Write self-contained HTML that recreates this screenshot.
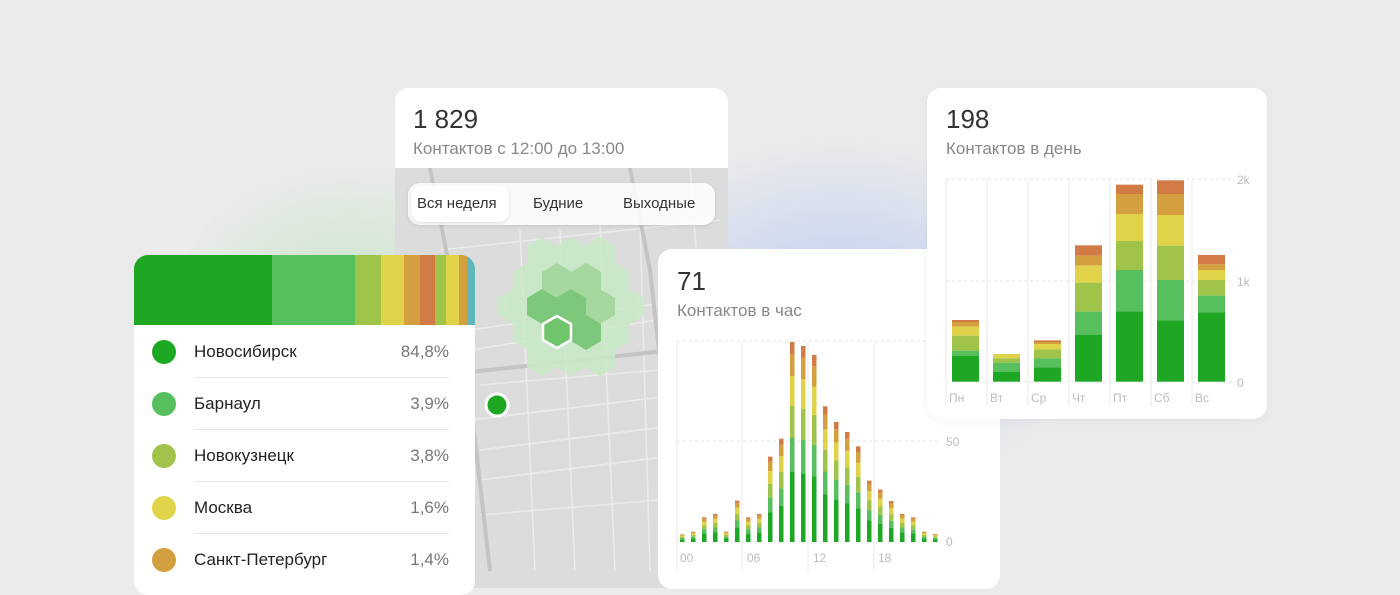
<!DOCTYPE html>
<html><head><meta charset="utf-8"><style>
*{margin:0;padding:0;box-sizing:border-box}
body{width:1400px;height:571px;overflow:hidden;background:#ebebeb;font-family:"Liberation Sans","DejaVu Sans",sans-serif;position:relative}
.card{position:absolute;background:#fff;border-radius:14px;overflow:hidden}
.big{position:absolute;font-size:26px;color:#333}
.sub{position:absolute;font-size:17px;color:#888}
</style></head><body>
<div style="position:absolute;left:560px;top:120px;width:560px;height:400px;background:radial-gradient(ellipse at center,rgba(170,195,245,.75),rgba(235,235,235,0) 65%)"></div>
<div style="position:absolute;left:150px;top:150px;width:400px;height:300px;background:radial-gradient(ellipse at center,rgba(180,225,180,.6),rgba(235,235,235,0) 65%)"></div>

<div class="card" style="left:395px;top:88px;width:333px;height:500px;">
 <div class="big" style="left:18px;top:16px">1 829</div>
 <div class="sub" style="left:18px;top:51px">Контактов с 12:00 до 13:00</div>
 <svg style="position:absolute;left:0;top:80px" width="333" height="420" viewBox="395 168 333 420">
  <rect x="395" y="168" width="333" height="420" fill="#dcdcdc"/>
  <g stroke="#ececec" stroke-width="1.5" fill="none">
   <path d="M470 330 L720 295"/><path d="M470 350 L720 310"/>
   <path d="M440 250 L720 220"/><path d="M470 420 L720 390"/><path d="M480 480 L720 450"/>
   <path d="M520 230 L535 571"/><path d="M560 230 L575 571"/><path d="M600 225 L615 571"/><path d="M640 220 L650 571"/>
   <path d="M480 385 L720 365"/><path d="M480 450 L720 420"/><path d="M480 515 L720 495"/>
   <path d="M690 168 L700 300 L705 571"/>
  </g>
  <g stroke="#c4c4c4" stroke-width="4" fill="none">
   <path d="M430 168 L448 260 L462 340 L475 440 L490 571"/>
   <path d="M630 168 L650 270 L660 360 L670 571"/>
   <path d="M470 372 L720 345"/>
  </g>
  <g fill="#c9e9c6" opacity=".85">
   <polygon points="542,237 557,246 557,263 542,272 527,263 527,246"/>
   <polygon points="571,237 586,246 586,263 571,272 556,263 556,246"/>
   <polygon points="600,237 615,246 615,263 600,272 585,263 585,246"/>
   <polygon points="528,263 543,272 543,289 528,298 513,289 513,272"/>
   <polygon points="615,263 630,272 630,289 615,298 600,289 600,272"/>
   <polygon points="513,289 528,298 528,315 513,324 498,315 498,298"/>
   <polygon points="629,289 644,298 644,315 629,324 614,315 614,298"/>
   <polygon points="528,315 543,324 543,341 528,350 513,341 513,324"/>
   <polygon points="615,315 630,324 630,341 615,350 600,341 600,324"/>
   <polygon points="542,341 557,350 557,367 542,376 527,367 527,350"/>
   <polygon points="571,341 586,350 586,367 571,376 556,367 556,350"/>
   <polygon points="600,341 615,350 615,367 600,376 585,367 585,350"/>
  </g>
  <g fill="#a4d89f">
   <polygon points="557,263 572,272 572,289 557,298 542,289 542,272"/>
   <polygon points="586,263 601,272 601,289 586,298 571,289 571,272"/>
   <polygon points="600,289 615,298 615,315 600,324 585,315 585,298"/>
  </g>
  <g fill="#7cc77a">
   <polygon points="542,289 557,298 557,315 542,324 527,315 527,298"/>
   <polygon points="571,289 586,298 586,315 571,324 556,315 556,298"/>
   <polygon points="586,315 601,324 601,341 586,350 571,341 571,324"/>
  </g>
  <polygon points="557,316 571,324 571,340 557,348 543,340 543,324" fill="#6fc46c" stroke="#fff" stroke-width="2.5"/>
  <circle cx="497" cy="405" r="11" fill="#1ea723" stroke="#fff" stroke-width="3"/>
 </svg>
 <div style="position:absolute;left:13px;top:95px;width:307px;height:42px;background:rgba(255,255,255,.85);border-radius:12px;box-shadow:0 1px 4px rgba(0,0,0,.1)">
  <div style="position:absolute;left:3px;top:3px;width:98px;height:36px;background:#fff;border-radius:10px;box-shadow:0 1px 3px rgba(0,0,0,.12)"></div>
  <div style="position:absolute;left:9px;top:12px;font-size:15px;color:#333">Вся неделя</div>
  <div style="position:absolute;left:125px;top:12px;font-size:15px;color:#333">Будние</div>
  <div style="position:absolute;left:215px;top:12px;font-size:15px;color:#333">Выходные</div>
 </div>
</div>

<div class="card" style="left:134px;top:255px;width:341px;height:340px;">
 <div style="position:absolute;left:0;top:0;height:70px;width:341px;display:flex">
  <div style="width:138px;background:#1ea723"></div><div style="width:83px;background:#58bf5f"></div>
  <div style="width:26px;background:#a0c44a"></div><div style="width:23px;background:#e0d34a"></div>
  <div style="width:16px;background:#d4a03f"></div><div style="width:15px;background:#d17b47"></div>
  <div style="width:11px;background:#a0c44a"></div><div style="width:13px;background:#e0d34a"></div>
  <div style="width:8px;background:#d4a03f"></div><div style="width:8px;background:#5fb9bc"></div>
 </div>
 <div style="position:absolute;left:18px;top:85px;width:24px;height:24px;border-radius:50%;background:#1ea723"></div>
 <div style="position:absolute;left:18px;top:137px;width:24px;height:24px;border-radius:50%;background:#58bf5f"></div>
 <div style="position:absolute;left:18px;top:189px;width:24px;height:24px;border-radius:50%;background:#a0c44a"></div>
 <div style="position:absolute;left:18px;top:241px;width:24px;height:24px;border-radius:50%;background:#e0d34a"></div>
 <div style="position:absolute;left:18px;top:293px;width:24px;height:24px;border-radius:50%;background:#d4a03f"></div>
 <div style="position:absolute;left:60px;top:87px;font-size:17px;color:#222">Новосибирск</div>
 <div style="position:absolute;left:60px;top:139px;font-size:17px;color:#222">Барнаул</div>
 <div style="position:absolute;left:60px;top:191px;font-size:17px;color:#222">Новокузнецк</div>
 <div style="position:absolute;left:60px;top:243px;font-size:17px;color:#222">Москва</div>
 <div style="position:absolute;left:60px;top:295px;font-size:17px;color:#222">Санкт-Петербург</div>
 <div style="position:absolute;right:26px;top:87px;font-size:17px;color:#777">84,8%</div>
 <div style="position:absolute;right:26px;top:139px;font-size:17px;color:#777">3,9%</div>
 <div style="position:absolute;right:26px;top:191px;font-size:17px;color:#777">3,8%</div>
 <div style="position:absolute;right:26px;top:243px;font-size:17px;color:#777">1,6%</div>
 <div style="position:absolute;right:26px;top:295px;font-size:17px;color:#777">1,4%</div>
 <div style="position:absolute;left:60px;top:122px;width:255px;border-top:1px solid #e6e6e6"></div>
 <div style="position:absolute;left:60px;top:174px;width:255px;border-top:1px solid #e6e6e6"></div>
 <div style="position:absolute;left:60px;top:226px;width:255px;border-top:1px solid #e6e6e6"></div>
 <div style="position:absolute;left:60px;top:278px;width:255px;border-top:1px solid #e6e6e6"></div>
</div>

<div class="card" style="left:658px;top:249px;width:342px;height:340px;">
 <div class="big" style="left:19px;top:17px">71</div>
 <div class="sub" style="left:19px;top:52px">Контактов в час</div>
</div>
<svg style="position:absolute;left:0;top:0" width="1400" height="571">
 <g stroke="#e4e4e4" stroke-dasharray="3,3"><line x1="677" y1="341" x2="940" y2="341"/><line x1="677" y1="441" x2="940" y2="441"/><line x1="677" y1="542" x2="940" y2="542"/></g>
 <g stroke="#e8e8e8"><line x1="677" y1="341" x2="677" y2="571"/><line x1="742" y1="341" x2="742" y2="571"/><line x1="808" y1="341" x2="808" y2="571"/><line x1="874" y1="341" x2="874" y2="571"/></g>
 <g font-size="12" fill="#bbb" font-family="Liberation Sans,sans-serif">
  <text x="680" y="562">00</text><text x="747" y="562">06</text><text x="813" y="562">12</text><text x="878" y="562">18</text>
  <text x="946" y="446">50</text><text x="946" y="546">0</text>
 </g>
 <g id="hbars"></g>
</svg>

<div class="card" style="left:927px;top:88px;width:340px;height:331px;box-shadow:0 2px 10px rgba(0,0,0,.04)">
 <div class="big" style="left:19px;top:16px">198</div>
 <div class="sub" style="left:19px;top:51px">Контактов в день</div>
 <svg style="position:absolute;left:0;top:0" width="340" height="331" viewBox="927 88 340 331">
  <g stroke="#e4e4e4" stroke-dasharray="3,3"><line x1="946" y1="179" x2="1235" y2="179"/><line x1="946" y1="281" x2="1235" y2="281"/><line x1="946" y1="382" x2="1235" y2="382"/></g>
  <g stroke="#e8e8e8"><line x1="946" y1="179" x2="946" y2="406"/><line x1="987" y1="179" x2="987" y2="406"/><line x1="1028" y1="179" x2="1028" y2="406"/><line x1="1069" y1="179" x2="1069" y2="406"/><line x1="1110" y1="179" x2="1110" y2="406"/><line x1="1151" y1="179" x2="1151" y2="406"/><line x1="1192" y1="179" x2="1192" y2="406"/></g>
  <g font-size="12" fill="#bbb" font-family="Liberation Sans,sans-serif">
   <text x="1237" y="184">2k</text><text x="1237" y="286">1k</text><text x="1237" y="387">0</text>
   <text x="949" y="402">Пн</text><text x="990" y="402">Вт</text><text x="1031" y="402">Ср</text><text x="1072" y="402">Чт</text><text x="1113" y="402">Пт</text><text x="1154" y="402">Сб</text><text x="1195" y="402">Вс</text>
  </g>
  <g id="dbars"></g>
 </svg>
</div>
<script>
var C=["#1ea723","#58bf5f","#a0c44a","#e0d34a","#d4a03f","#d17b47"];
var ns="http://www.w3.org/2000/svg";
function R(g,x,y,w,h,c){var r=document.createElementNS(ns,"rect");r.setAttribute("x",x);r.setAttribute("y",y);r.setAttribute("width",w);r.setAttribute("height",Math.max(h,0));r.setAttribute("fill",c);g.appendChild(r);}
var tops=[613,605,562,552,605,512,562,552,380,326,36,48,75,229,276,306,349,452,479,513,552,562,605,612];
var g=document.getElementById("hbars");var fr=[0,.35,.52,.68,.83,.94,1];
tops.forEach(function(t,i){var x=680+i*11,top=330+t/3,b=542,h=b-top;for(var k=0;k<6;k++){var y1=b-h*fr[k+1],y0=b-h*fr[k];R(g,x,y1,4.5,y0-y1,C[k]);}});
var D=[[450,456,470,497,542,558],[552,552,552,565,578,605],[511,516,522,538,565,592],[226,257,287,338,425,494],[44,72,132,213,300,424],[31,72,135,227,330,451],[255,283,300,330,377,427]];
var gd=document.getElementById("dbars");
D.forEach(function(d,i){var x=952+i*41;var pts=d.concat([635]);for(var k=0;k<6;k++){var y0=170+pts[k]/3,y1=170+pts[k+1]/3;R(gd,x,y0,27,y1-y0,C[5-k]);}});
</script>
</body></html>
